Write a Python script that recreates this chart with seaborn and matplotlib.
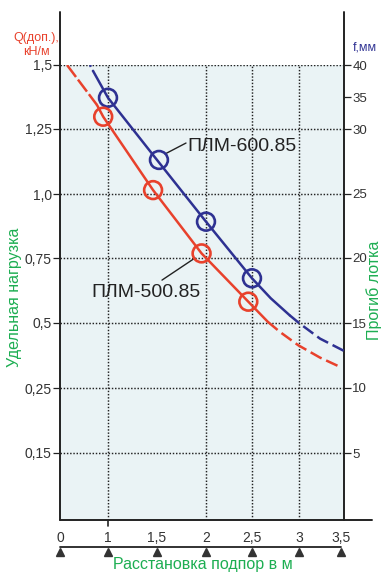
import numpy as np
import matplotlib
matplotlib.use("Agg")
import matplotlib.pyplot as plt
import matplotlib.transforms as mtransforms
import seaborn as sns

# axes (the chart spaces every axis unevenly)
x_ticks = [0, 1, 1.5, 2, 2.5, 3, 3.5]
x_labels = ["0", "1", "1,5", "2", "2,5", "3", "3,5"]
x_grid = [1, 2, 2.5, 3]
q_ticks = [0.15, 0.25, 0.5, 0.75, 1.0, 1.25, 1.5]
q_labels = ["0,15", "0,25", "0,5", "0,75", "1,0", "1,25", "1,5"]
f_ticks = [5, 10, 15, 20, 25, 30, 35, 40]

# ПЛМ-600.85 (blue): dashed head, solid body, dashed tail
plm600_head_x = [0.625, 0.688]
plm600_head_q = [1.50, 1.477]
plm600_x = [0.688, 1.0, 1.5, 2.0, 2.5, 2.7, 2.9]
plm600_q = [1.477, 1.372, 1.131, 0.892, 0.672, 0.595, 0.530]
plm600_tail_x = [2.9, 3.0, 3.25, 3.52]
plm600_tail_q = [0.530, 0.50, 0.44, 0.392]
plm600_pts_x = [1.0, 1.52, 2.0, 2.5]
plm600_pts_q = [1.372, 1.131, 0.892, 0.672]

# ПЛМ-500.85 (red)
plm500_head_x = [0.146, 0.77]
plm500_head_q = [1.50, 1.344]
plm500_x = [0.77, 0.9, 1.46, 1.955, 2.46, 2.67]
plm500_q = [1.344, 1.298, 1.015, 0.768, 0.582, 0.504]
plm500_tail_x = [2.67, 2.8, 2.99, 3.25, 3.49]
plm500_tail_q = [0.504, 0.465, 0.415, 0.367, 0.331]
plm500_pts_x = [0.9, 1.46, 1.955, 2.46]
plm500_pts_q = [1.298, 1.015, 0.768, 0.582]

RED = "#E8412C"
BLUE = "#2E3192"
GREEN = "#1DAE52"
INK = "#222222"
W, H = 382, 573


def piecewise(src, dst):
    src = np.asarray(src, float)
    dst = np.asarray(dst, float)
    fwd = lambda v: np.interp(v, src, dst)
    inv = lambda v: np.interp(v, dst, src)
    return fwd, inv


def fxy(px, py):
    return px / W, 1 - py / H


def main():
    sns.set_style("white")
    plt.rcParams["font.family"] = ["Liberation Sans", "DejaVu Sans"]

    fig = plt.figure(figsize=(W / 100, H / 100), dpi=100)
    left, right, top, bottom = 60, 344, 65, 520
    ax = fig.add_axes([left / W, 1 - bottom / H, (right - left) / W, (bottom - top) / H])
    ax.set_facecolor("#EAF3F5")

    # uneven scales, in pixels from the lower-left corner of the plot area
    ax.set_xscale("function", functions=piecewise(
        x_ticks + [4.0], [0, 48, 97, 146, 192, 239, 281, 365]))
    ax.set_yscale("function", functions=piecewise(
        [0] + q_ticks + [2.0], [0, 67, 132, 197, 262, 326, 391, 455, 583]))
    ax.set_xlim(0, 3.518)
    ax.set_ylim(0, 1.5)

    ax2 = ax.twinx()
    ax2.set_yscale("function", functions=piecewise(
        [0] + f_ticks + [50], [0, 67, 132, 197, 262, 326, 391, 423, 455, 519]))
    ax2.set_ylim(0, 40)

    for a in (ax, ax2):
        for s in a.spines.values():
            s.set_visible(False)

    dotted = dict(color=INK, linestyle=(0, (1, 1.2)), linewidth=1.05)
    ax.set_yticks(q_ticks, q_labels)
    ax.set_xticks(x_grid, [""] * len(x_grid))
    ax.grid(True, **dotted)
    ax.tick_params(axis="x", length=0)
    ax.tick_params(axis="y", length=5, width=0.9, color=INK, pad=1,
                   labelsize=10, labelcolor="#333333")
    ax2.set_yticks(f_ticks, [str(v) for v in f_ticks])
    ax2.tick_params(axis="y", length=5, width=0.9, color=INK, pad=1,
                    labelsize=9.5, labelcolor="#333333")
    ax2.grid(False)

    # curves
    curves = [
        (BLUE, plm600_head_x, plm600_head_q, plm600_x, plm600_q,
         plm600_tail_x, plm600_tail_q, plm600_pts_x, plm600_pts_q, (0, (0.8, 1.6))),
        (RED, plm500_head_x, plm500_head_q, plm500_x, plm500_q,
         plm500_tail_x, plm500_tail_q, plm500_pts_x, plm500_pts_q, (0, (6, 1.3))),
    ]
    for color, hx, hq, bx, bq, tx, tq, px, pq, head_ls in curves:
        sns.lineplot(x=hx, y=hq, ax=ax, color=color, lw=1.8, linestyle=head_ls,
                     sort=False, zorder=3)
        sns.lineplot(x=bx, y=bq, ax=ax, color=color, lw=1.8, sort=False, zorder=3)
        sns.lineplot(x=tx, y=tq, ax=ax, color=color, lw=1.8,
                     linestyle=(0, (5, 2)), sort=False, zorder=3)
        sns.scatterplot(x=px, y=pq, ax=ax, s=165, color=color, facecolor="none",
                        edgecolor=color, linewidth=1.9, zorder=4)

    # labels with leader lines
    ax.plot([1.582, 1.796], [1.154, 1.196], color=INK, lw=1.0, zorder=3)
    ax.text(1.806, 1.181, "ПЛМ-600.85", fontsize=14, color=INK,
            ha="left", va="center", zorder=5)
    ax.plot([1.551, 1.888], [0.665, 0.75], color=INK, lw=1.0, zorder=3)
    ax.text(1.388, 0.619, "ПЛМ-500.85", fontsize=14, color=INK,
            ha="center", va="center", zorder=5)

    # frame lines: left/right run above the plot area, bottom runs past it
    span = bottom - top
    ext = (bottom - 12) / span
    ax.plot([0, 0], [0, ext], transform=ax.transAxes, color=INK, lw=1.4, clip_on=False)
    ax.plot([1, 1], [0, ext], transform=ax.transAxes, color=INK, lw=1.4, clip_on=False)
    ax.plot([0, (372 - left) / (right - left)], [0, 0], transform=ax.transAxes,
            color=INK, lw=1.4, clip_on=False)

    # bottom scale with triangles
    trans = mtransforms.blended_transform_factory(ax.transData, ax.transAxes)
    ax.plot([1, 1], [0, -6 / span], transform=trans, color=INK, lw=1.2, clip_on=False)
    y_line = -(547 - bottom) / span
    ax.plot([x_ticks[0], x_ticks[-1]], [y_line, y_line], transform=trans,
            color=INK, lw=1.3, clip_on=False)
    ax.plot(x_ticks, [-(552 - bottom) / span] * len(x_ticks), transform=trans,
            linestyle="none", marker="^", markersize=5.5, color="#333333", clip_on=False)
    for xv, lab in zip(x_ticks, x_labels):
        ax.text(xv, -(538 - bottom) / span, lab, transform=trans, fontsize=10,
                color="#333333", ha="center", va="center")

    # axis titles
    fig.text(*fxy(36, 45), "Q(доп.),\nкН/м", color=RED, fontsize=9,
             ha="center", va="center", multialignment="center", linespacing=1.2)
    fig.text(*fxy(353, 48), "f,мм", color=BLUE, fontsize=9, ha="left", va="center")
    fig.text(*fxy(15, 297), "Удельная нагрузка", color=GREEN, fontsize=11.5,
             rotation=90, ha="center", va="center")
    fig.text(*fxy(374, 290), "Прогиб лотка", color=GREEN, fontsize=11.5,
             rotation=90, ha="center", va="center")
    fig.text(*fxy(203, 565), "Расстановка подпор в м", color=GREEN, fontsize=11.5,
             ha="center", va="center")

    fig.savefig("out.png", dpi=100)
    plt.close(fig)


if __name__ == "__main__":
    main()
